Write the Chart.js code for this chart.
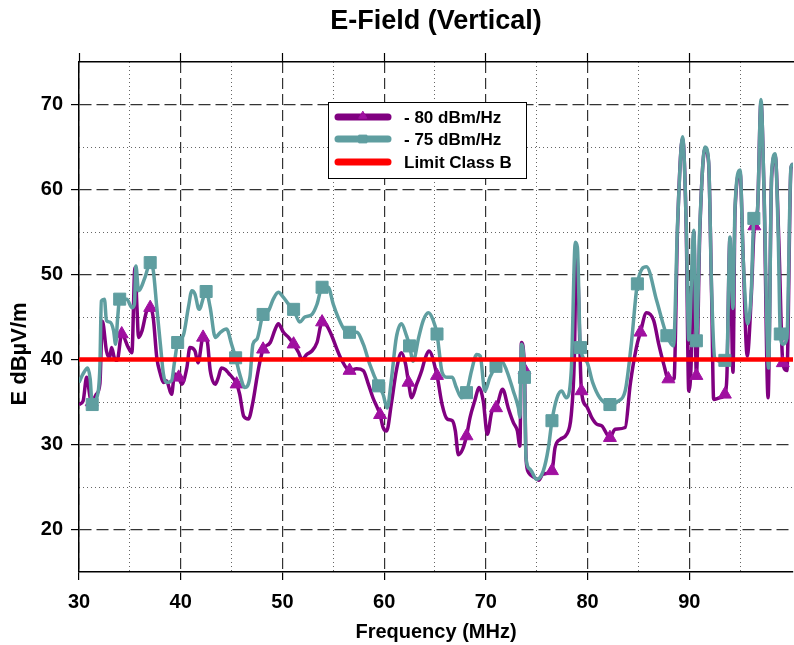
<!DOCTYPE html>
<html><head><meta charset="utf-8">
<script src="https://cdn.jsdelivr.net/npm/chart.js@4.4.1/dist/chart.umd.min.js"></script>
<style>html,body{margin:0;padding:0;background:#fff}canvas{display:block}</style>
</head><body>
<canvas id="c" width="794" height="645"></canvas>
<script>
// ---- data ----
const freq80 = [30.0,30.4,30.75,31.1,31.25,31.7,32.05,32.3,32.7,33.0,
33.2,33.5,33.75,34.2,34.85,35.2,35.5,35.7,35.85,36.2,
36.65,37.0,37.3,37.65,38.0,38.3,38.6,39.1,39.4,39.8,
40.1,40.6,40.9,41.4,41.7,42.2,42.6,42.9,43.4,43.7,
44.0,44.4,44.7,45.5,45.8,46.2,46.65,47.1,47.5,47.8,
48.1,48.8,49.3,49.6,50.1,50.6,51.1,51.6,51.9,52.4,
52.9,53.4,53.9,54.35,54.85,55.3,55.8,56.6,57.3,57.95,
58.45,58.9,59.6,59.9,60.25,60.7,61.2,61.7,62.1,62.4,
62.7,63.2,63.7,64.0,64.4,65.2,65.7,66.2,66.7,67.0,
67.3,67.7,68.1,68.45,68.9,69.35,69.75,70.15,70.6,71.0,
71.65,72.2,72.7,73.1,73.35,73.5,73.8,73.95,74.2,74.8,
75.2,75.6,76.5,76.8,77.3,77.95,78.4,78.7,78.9,79.05,
79.4,79.9,80.4,80.9,81.4,82.2,82.7,83.7,84.2,84.8,
85.2,85.8,86.5,87.0,87.5,87.95,88.5,88.85,89.35,89.7,
89.95,90.2,90.45,90.7,91.05,91.55,91.9,92.2,92.4,93.0,
93.5,93.7,94.0,94.3,94.5,95.0,95.3,95.7,96.1,96.4,
96.7,97.05,97.35,97.75,98.1,98.45,98.8,99.2,99.6,100.0,
100.2];
const e80 = [34.7,35.1,37.9,35.5,35.0,35.9,37.1,44.5,41.0,40.2,
41.4,40.1,39.9,43.0,41.4,40.8,50.8,46.1,42.6,43.4,
45.7,46.1,44.9,40.2,38.3,37.3,37.5,35.9,38.3,37.9,
37.1,39.0,41.4,41.0,39.6,42.6,42.2,38.7,37.1,37.9,
39.0,38.8,38.4,37.1,35.9,33.3,33.0,35.0,37.9,39.8,
41.2,42.0,43.6,44.2,43.2,42.6,41.8,40.8,40.0,40.6,
41.0,42.0,44.4,44.0,42.8,41.4,40.0,38.7,38.9,38.7,
37.1,35.5,33.5,32.0,31.6,34.7,38.7,40.8,39.5,37.3,
35.5,37.1,38.7,40.0,41.0,38.1,34.7,33.0,32.8,31.6,
28.8,29.4,31.0,33.2,35.1,36.7,35.1,31.2,33.9,34.3,
36.5,34.3,32.6,31.6,29.8,42.0,38.8,28.4,26.7,26.1,
25.8,26.5,26.9,29.6,30.6,31.2,33.5,40.0,52.5,50.0,
36.3,34.5,33.2,32.4,32.2,30.8,31.8,32.0,37.1,41.4,
43.2,45.5,44.6,41.8,39.4,37.7,37.7,55.5,66.0,55.5,
36.3,40.0,55.0,38.1,55.5,64.8,63.2,47.5,35.3,35.5,
35.9,38.0,54.2,38.5,57.5,62.0,52.0,40.4,47.5,55.7,
57.3,70.3,59.7,35.5,61.5,64.0,54.2,39.6,38.7,62.5,
63.0];
const markers80 = [31.25,34.2,37.0,39.8,42.2,45.5,48.1,51.1,53.9,56.6,59.6,62.4,65.2,68.1,71.0,73.8,76.5,79.4,82.2,85.2,87.95,90.7,93.5,96.4,99.2];

const freq75 = [30.0,30.4,30.85,31.1,31.3,31.75,32.05,32.2,32.5,32.7,
33.05,33.4,33.6,33.8,34.0,34.7,35.2,35.45,35.6,35.85,
36.5,37.0,37.3,37.65,38.0,38.3,38.6,39.1,39.4,39.7,
40.25,40.75,41.1,41.4,41.8,42.5,42.9,43.4,43.9,44.5,
45.0,45.4,45.8,46.3,46.8,47.1,47.5,48.1,48.6,49.1,
49.6,50.1,50.6,51.1,51.7,52.2,52.9,53.4,53.9,54.5,
55.0,55.5,56.15,56.6,57.3,57.95,58.6,59.45,59.9,60.3,
60.7,61.2,61.7,62.2,62.5,62.85,63.4,63.85,64.35,64.8,
65.2,65.7,66.2,66.7,67.1,67.6,68.1,68.6,69.1,69.45,
69.9,70.4,71.0,71.55,72.05,72.7,73.2,73.35,73.5,73.8,
73.95,74.35,75.0,75.65,76.15,76.5,77.0,77.45,77.9,78.4,
78.8,79.0,79.3,79.9,80.5,81.2,82.2,83.0,83.7,84.3,
84.9,85.8,86.8,87.8,88.45,88.85,89.35,89.7,89.95,90.45,
90.7,91.05,91.55,91.9,92.2,92.5,93.0,93.5,93.7,94.0,
94.3,94.5,95.0,95.3,95.75,96.1,96.35,96.7,97.05,97.35,
97.8,98.1,98.45,98.75,98.95,99.2,99.6,100.0,100.2];
const e75 = [37.3,38.3,39.0,37.7,34.7,35.5,39.0,46.9,47.1,44.6,
44.4,43.4,41.8,44.9,47.1,47.1,46.1,46.5,51.0,48.1,
49.7,51.4,50.5,46.1,41.8,38.3,37.3,37.5,39.8,42.0,
42.8,46.1,48.1,47.7,45.9,48.0,46.1,42.6,43.2,43.6,
41.8,40.2,38.3,36.7,37.9,41.8,42.4,45.3,45.7,47.1,
47.9,47.3,46.5,45.9,44.4,45.0,45.3,46.5,48.5,48.5,
46.5,44.9,43.4,43.2,43.2,41.8,39.4,36.9,35.9,34.3,
37.5,42.6,44.2,42.8,41.6,39.8,42.6,44.6,45.5,44.7,
43.0,38.5,37.9,37.9,36.7,35.5,36.1,38.7,40.6,40.4,
36.3,37.9,39.2,39.8,38.7,36.3,34.3,33.2,41.8,37.9,
28.4,27.1,25.9,26.9,29.6,32.8,35.5,36.3,35.5,38.7,
53.8,53.2,41.4,39.8,37.3,35.5,34.7,35.1,36.3,41.8,
48.9,50.9,46.9,42.8,41.6,56.0,66.2,56.0,42.3,55.2,
42.2,56.0,65.0,63.4,48.1,40.2,39.8,39.9,40.2,54.4,
46.0,57.9,62.3,52.0,44.2,48.1,56.6,57.5,70.6,59.9,
39.0,61.9,64.2,54.4,43.0,41.8,42.5,62.6,63.0];
const markers75 = [31.3,34.0,37.0,39.7,42.5,45.4,48.1,51.1,53.9,56.6,59.45,62.5,65.2,68.1,71.0,73.8,76.5,79.3,82.2,84.9,87.8,90.7,93.5,96.35,98.95];

const limitFreq = [30, 100.2];
const limitValue = [40, 40];

const xMajorTicks = [30,40,50,60,70,80,90];
const xMinorTicks = [35,45,55,65,75,85,95];
const yMajorTicks = [20,30,40,50,60,70];
const yMinorTicks = [25,35,45,55,65];

const seriesLabels = ['- 80 dBm/Hz', '- 75 dBm/Hz', 'Limit Class B'];
const chartTitle = 'E-Field (Vertical)';
const xTitle = 'Frequency (MHz)';
const yTitle = 'E dBµV/m';

// ---- styling ----
const FONT = "'Liberation Sans', Arial, Helvetica, sans-serif";
const PURPLE = '#800080', PURPLE_MK = '#a010a0', TEAL = '#5f9ea0', RED = '#ff0000';
const X_MIN = 30, X_MAX = 100.2, Y_MIN = 15, Y_MAX = 75;

const toXY = (xs, ys) => xs.map((x, i) => ({x, y: ys[i]}));
const markerRadius = (list, r) => (ctx) =>
  (ctx.raw && list.some(m => Math.abs(m - ctx.raw.x) < 1e-9)) ? r : 0;
const setTicks = (list) => (scale) => { scale.ticks = list.map(v => ({value: v})); };

const MAJOR_GRID = {color: '#333', lineWidth: 1.2, tickLength: 8, tickColor: '#000', tickWidth: 1.2};
const MINOR_GRID = {color: '#666', lineWidth: 1, drawTicks: false};

const overlayPlugin = {
  id: 'overlay',
  afterDraw(chart) {
    const ctx = chart.ctx;
    // y-axis title
    ctx.save();
    ctx.translate(20, 354);
    ctx.rotate(-Math.PI / 2);
    ctx.font = 'bold 22px ' + FONT;
    ctx.fillStyle = '#000';
    ctx.textAlign = 'center';
    ctx.textBaseline = 'middle';
    ctx.fillText(yTitle, 0, 0);
    ctx.restore();

    // legend box
    ctx.save();
    const bx = 328, by = 102, bw = 198, bh = 76;
    ctx.fillStyle = '#fff';
    ctx.fillRect(bx, by, bw, bh);
    ctx.strokeStyle = '#000';
    ctx.lineWidth = 1;
    ctx.strokeRect(bx + 0.5, by + 0.5, bw, bh);
    const rows = [117, 139, 162];
    chart.data.datasets.forEach((ds, i) => {
      const y = rows[i];
      ctx.strokeStyle = ds.borderColor;
      ctx.lineWidth = 7;
      ctx.lineCap = 'round';
      ctx.beginPath();
      ctx.moveTo(338, y);
      ctx.lineTo(388, y);
      ctx.stroke();
      if (ds.legendMarker) {
        ctx.fillStyle = ds.pointBackgroundColor;
        ctx.strokeStyle = ds.pointBackgroundColor;
        ctx.lineWidth = 1;
        Chart.helpers.drawPoint(ctx, {
          pointStyle: ds.pointStyle, radius: ds.legendMarker, borderWidth: 1, rotation: 0
        }, 363, y - (ds.pointStyle === 'triangle' ? 1 : 0));
      }
      ctx.fillStyle = '#000';
      ctx.font = 'bold 17px ' + FONT;
      ctx.textAlign = 'left';
      ctx.textBaseline = 'middle';
      ctx.fillText(ds.label, 404, y + 1);
    });
    ctx.restore();
  }
};

new Chart(document.getElementById('c'), {
  type: 'line',
  data: {
    datasets: [
      {
        label: seriesLabels[0], data: toXY(freq80, e80), order: 2,
        borderColor: PURPLE, borderWidth: 3.5, cubicInterpolationMode: 'monotone',
        pointStyle: 'triangle', pointRadius: markerRadius(markers80, 7.5),
        pointBackgroundColor: PURPLE_MK, pointBorderColor: PURPLE_MK, pointBorderWidth: 1,
        legendMarker: 4.5
      },
      {
        label: seriesLabels[1], data: toXY(freq75, e75), order: 1,
        borderColor: TEAL, borderWidth: 3.5, cubicInterpolationMode: 'monotone',
        pointStyle: 'rect', pointRadius: markerRadius(markers75, 8.5),
        pointBackgroundColor: TEAL, pointBorderColor: TEAL, pointBorderWidth: 1,
        legendMarker: 5.5
      },
      {
        label: seriesLabels[2], data: toXY(limitFreq, limitValue), order: 0,
        borderColor: RED, borderWidth: 4.5, pointRadius: 0, tension: 0
      }
    ]
  },
  options: {
    responsive: false,
    animation: false,
    events: [],
    layout: {padding: {left: 0, right: 1, top: 0, bottom: 0}},
    plugins: {
      legend: {display: false},
      tooltip: {enabled: false},
      title: {
        display: true, fullSize: false, text: chartTitle, color: '#000',
        font: {family: FONT, size: 27, weight: 'bold', lineHeight: 1.2},
        padding: {top: 5, bottom: 15.6}
      }
    },
    scales: {
      x: {
        type: 'linear', position: 'bottom', min: X_MIN, max: X_MAX,
        afterBuildTicks: setTicks(xMajorTicks),
        afterFit: (s) => { s.height = 73; },
        ticks: {color: '#000', font: {family: FONT, size: 20, weight: 'bold'}, padding: 10, autoSkip: false, maxRotation: 0},
        grid: MAJOR_GRID,
        border: {display: true, color: '#000', width: 1.5, dash: [11, 5]},
        title: {display: true, text: xTitle, color: '#000', font: {family: FONT, size: 20, weight: 'bold'}, padding: {top: 0, bottom: 1}}
      },
      xTop: {
        type: 'linear', position: 'top', min: X_MIN, max: X_MAX,
        afterBuildTicks: setTicks(xMajorTicks),
        afterFit: (s) => { s.height = 9; },
        ticks: {display: false},
        grid: {drawOnChartArea: false, tickLength: 9, tickColor: '#000', tickWidth: 1.2},
        border: {display: true, color: '#000', width: 1.5}
      },
      xMinor: {
        type: 'linear', position: 'top', min: X_MIN, max: X_MAX,
        afterBuildTicks: setTicks(xMinorTicks),
        afterFit: (s) => { s.height = 0; },
        ticks: {display: false},
        grid: MINOR_GRID,
        border: {display: false, dash: [1, 3]}
      },
      y: {
        type: 'linear', position: 'left', min: Y_MIN, max: Y_MAX,
        afterBuildTicks: setTicks(yMajorTicks),
        afterFit: (s) => { s.width = 79; },
        ticks: {color: '#000', font: {family: FONT, size: 20, weight: 'bold'}, padding: 8},
        grid: MAJOR_GRID,
        border: {display: true, color: '#000', width: 1.5, dash: [12, 5]}
      },
      yMinor: {
        type: 'linear', position: 'left', min: Y_MIN, max: Y_MAX,
        afterBuildTicks: setTicks(yMinorTicks),
        afterFit: (s) => { s.width = 0; },
        ticks: {display: false},
        grid: MINOR_GRID,
        border: {display: false, dash: [1, 3]}
      }
    }
  },
  plugins: [overlayPlugin]
});
</script>
</body></html>
